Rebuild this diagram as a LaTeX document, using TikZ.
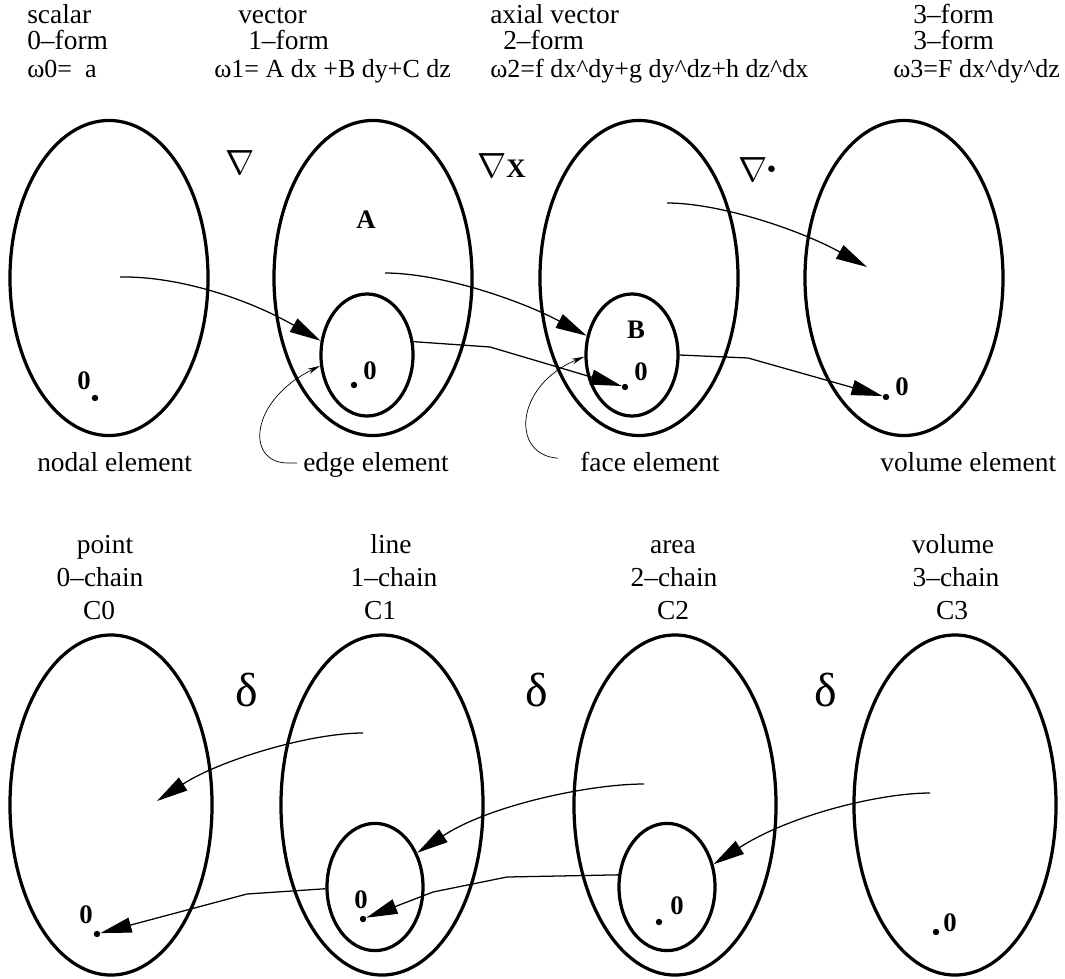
\documentclass[tikz,border=0pt]{standalone}
\usepackage{fontspec}
\setmainfont{Liberation Serif}
\usetikzlibrary{shapes.geometric,arrows.meta}

\begin{document}
\begin{tikzpicture}[x=0.025cm, y=-0.025cm,
  form/.style={ellipse, draw, line width=2.3pt, inner sep=0pt, minimum width=4.95cm, minimum height=7.875cm},
  chain/.style={form, minimum width=5.05cm, minimum height=8.5cm},
  sub/.style={ellipse, draw, line width=2.3pt, inner sep=0pt, minimum width=2.3cm, minimum height=3.05cm},
  lbl/.style={inner sep=0pt, anchor=base west, font=\fontsize{19.5}{22}\selectfont},
  eqn/.style={lbl, font=\fontsize{18.5}{20}\selectfont},
  clbl/.style={lbl, anchor=base},
  zero/.style={inner sep=0pt, font=\fontsize{19}{20}\selectfont\bfseries},
  pt/.style={circle, fill, inner sep=0pt, minimum size=0.16cm},
  op/.style={inner sep=0pt},
  map/.style={line width=0.9pt, -{Triangle[length=0.78cm, width=0.38cm]}},
  lead/.style={line width=0.5pt, -{Stealth[length=0.32cm, width=0.14cm]}}
]
  \useasboundingbox (0,0) rectangle (1065,979);

  % forms
  \node[lbl] (h0a) at (27,24) {scalar};
  \node[lbl] (h0b) at (27,50) {0--form};
  \node[eqn] (h0c) at (27,77) {ω0=\ \ a};
  \node[lbl] (h1a) at (238,24) {vector};
  \node[lbl] (h1b) at (248,50) {1--form};
  \node[eqn] (h1c) at (214,77) {ω1= A dx +B dy+C dz};
  \node[lbl] (h2a) at (490,24) {axial vector};
  \node[lbl] (h2b) at (503,50) {2--form};
  \node[eqn] (h2c) at (490,77) {ω2=f dx\textasciicircum dy+g dy\textasciicircum dz+h dz\textasciicircum dx};
  \node[lbl] (h3a) at (913,24) {3--form};
  \node[lbl] (h3b) at (913,50) {3--form};
  \node[eqn] (h3c) at (893,77) {ω3=F dx\textasciicircum dy\textasciicircum dz};

  \node[form] (f0) at (109,278) {};
  \node[form] (f1) at (373,278) {};
  \node[form] (f2) at (639,278) {};
  \node[form] (f3) at (904,278) {};
  \node[sub] (s1) at (367,355) {};
  \node[sub] (s2) at (632,355) {};

  \node[op] (grad) at (240,163) {\fontsize{27}{27}\selectfont$\nabla$};
  \node[op, anchor=west] (curl) at (477,166) {\fontsize{27}{27}\selectfont$\nabla$\fontsize{19}{19}\selectfont\bfseries X};
  \node[op, anchor=west] (div) at (738,170) {\fontsize{27}{27}\selectfont$\nabla$\fontsize{12}{12}\selectfont\raisebox{6pt}{$\bullet$}};

  \node[zero] (A) at (366,220) {A};
  \node[zero] (B) at (636,330) {B};
  \node[zero] (o0) at (84,381) {0};
  \node[pt] (p0) at (95,398) {};
  \node[zero] (o1) at (370,371) {0};
  \node[pt] (p1) at (354,385) {};
  \node[zero] (o2) at (641,372) {0};
  \node[pt] (p2) at (625,387) {};
  \node[zero] (o3) at (902,387) {0};
  \node[pt] (p3) at (886,397) {};

  \coordinate (g0) at (120,277);
  \coordinate (g1) at (385,273);
  \coordinate (g2) at (667,203);
  \coordinate (g3) at (867,267);
  \draw[map] (g0) .. controls (180,276) and (250,300) .. (s1.163);
  \draw[map] (g1) .. controls (440,273) and (520,300) .. (s2.157);
  \draw[map] (g2) .. controls (720,203) and (800,230) .. (g3);
  \draw[map] (s1.16) -- (490,347) -- (p2);
  \draw[map] (s2.0) -- (748,358) -- (p3);

  \node[lbl] (e0) at (37,471) {nodal element};
  \node[lbl] (e1) at (303,471) {edge element};
  \node[lbl] (e2) at (580,471) {face element};
  \node[lbl] (e3) at (880,471) {volume element};
  \draw[lead] ([xshift=-0.15cm, yshift=0.2cm]e1.base west) -- ++(-10,0) .. controls (245,462) and (250,400) .. (s1.193);
  \draw[lead] ([xshift=-0.55cm, yshift=0.32cm]e2.base west) .. controls (510,455) and (515,385) .. (s2.182);

  % chains
  \node[clbl] (c0a) at (105,553) {point};
  \node[clbl] (c0b) at (100,586) {0--chain};
  \node[clbl] (c0c) at (99,619) {C0};
  \node[clbl] (c1a) at (391,553) {line};
  \node[clbl] (c1b) at (394,586) {1--chain};
  \node[clbl] (c1c) at (380,619) {C1};
  \node[clbl] (c2a) at (673,553) {area};
  \node[clbl] (c2b) at (674,586) {2--chain};
  \node[clbl] (c2c) at (673,619) {C2};
  \node[clbl] (c3a) at (953,553) {volume};
  \node[clbl] (c3b) at (956,586) {3--chain};
  \node[clbl] (c3c) at (952,619) {C3};

  \node[chain] (k0) at (111,805) {};
  \node[chain] (k1) at (382,805) {};
  \node[chain] (k2) at (675,805) {};
  \node[chain] (k3) at (955,805) {};
  \node[sub, minimum width=2.4cm, minimum height=3.18cm] (r1) at (375,887) {};
  \node[sub, minimum width=2.4cm, minimum height=3.18cm] (r2) at (667,887) {};

  \node[op] (d1) at (247,690) {\fontsize{34}{34}\selectfont δ};
  \node[op] (d2) at (537,690) {\fontsize{34}{34}\selectfont δ};
  \node[op] (d3) at (826,690) {\fontsize{34}{34}\selectfont δ};

  \node[zero] (q0) at (86,915) {0};
  \node[pt] (u0) at (97,934) {};
  \node[zero] (q1) at (361,900) {0};
  \node[pt] (u1) at (363,919) {};
  \node[zero] (q2) at (677,906) {0};
  \node[pt] (u2) at (659,922) {};
  \node[zero] (q3) at (950,923) {0};
  \node[pt] (u3) at (936,932) {};

  \coordinate (b1) at (363,733);
  \coordinate (b0) at (157,801);
  \coordinate (b2) at (644,784);
  \coordinate (b3) at (930,793);
  \draw[map] (b1) .. controls (310,733) and (220,760) .. (b0);
  \draw[map] (b2) .. controls (590,784) and (490,805) .. (r1.39);
  \draw[map] (b3) .. controls (880,793) and (790,815) .. (r2.26);
  \draw[map] (r2.166) -- (507,877) -- (433,892) -- (u1);
  \draw[map] (r1.182) -- (247,894) -- (u0);
\end{tikzpicture}
\end{document}
